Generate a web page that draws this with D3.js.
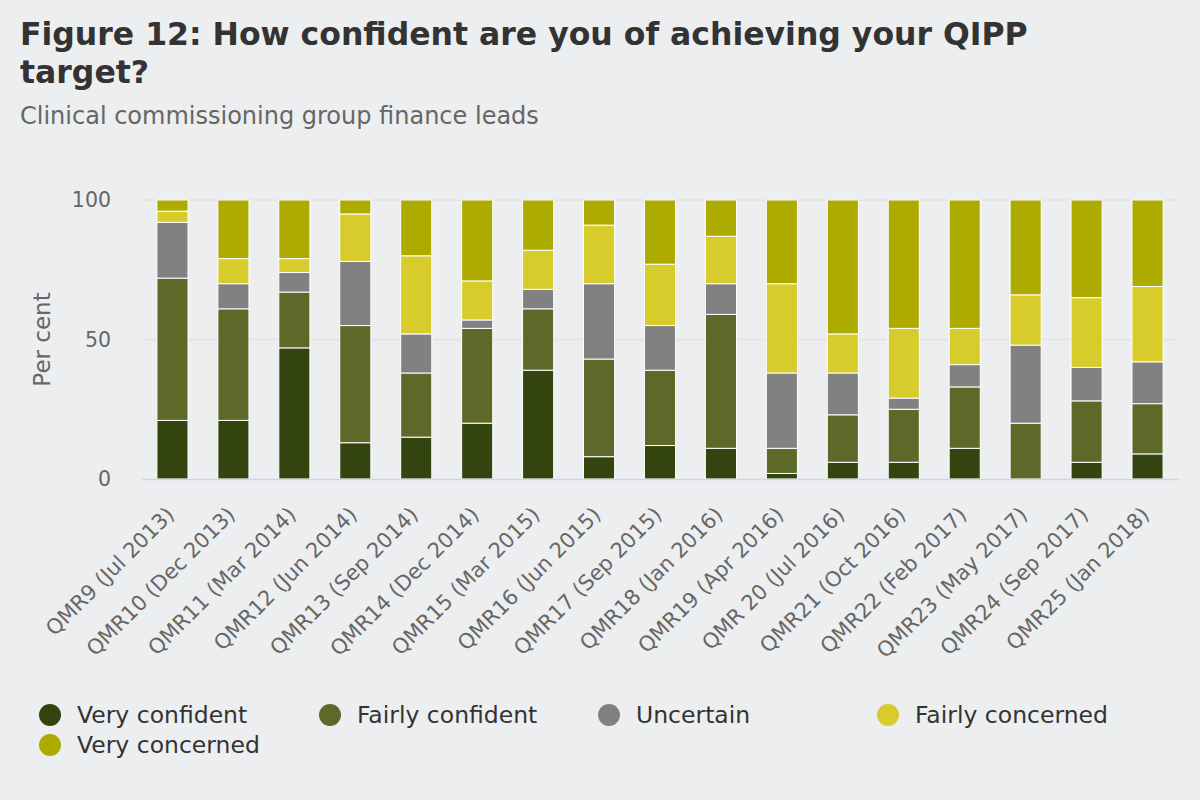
<!DOCTYPE html>
<html>
<head>
<meta charset="utf-8">
<script src="https://cdn.jsdelivr.net/npm/d3@7"></script>
<style>
  body { margin: 0; background: #edeef0; }
  svg { display: block; font-family: "DejaVu Sans", Verdana, sans-serif; }
</style>
</head>
<body>
<div id="chart"></div>
<script>
// survey rounds
var categories = [
  "QMR9 (Jul 2013)", "QMR10 (Dec 2013)", "QMR11 (Mar 2014)", "QMR12 (Jun 2014)",
  "QMR13 (Sep 2014)", "QMR14 (Dec 2014)", "QMR15 (Mar 2015)", "QMR16 (Jun 2015)",
  "QMR17 (Sep 2015)", "QMR18 (Jan 2016)", "QMR19 (Apr 2016)", "QMR 20 (Jul 2016)",
  "QMR21 (Oct 2016)", "QMR22 (Feb 2017)", "QMR23 (May 2017)", "QMR24 (Sep 2017)",
  "QMR25 (Jan 2018)"
];
var seriesNames = ["Very confident", "Fairly confident", "Uncertain", "Fairly concerned", "Very concerned"];
var seriesColors = ["#34440f", "#5e6829", "#818181", "#d8cc2c", "#adaa00"];

// per cent of finance leads
var veryConfident   = [21, 21, 47, 13, 15, 20, 39,  8, 12, 11,  2,  6,  6, 11,  0,  6,  9];
var fairlyConfident = [51, 40, 20, 42, 23, 34, 22, 35, 27, 48,  9, 17, 19, 22, 20, 22, 18];
var uncertain       = [20,  9,  7, 23, 14,  3,  7, 27, 16, 11, 27, 15,  4,  8, 28, 12, 15];
var fairlyConcerned = [ 4,  9,  5, 17, 28, 14, 14, 21, 22, 17, 32, 14, 25, 13, 18, 25, 27];
var veryConcerned   = [ 4, 21, 21,  5, 20, 29, 18,  9, 23, 13, 30, 48, 46, 46, 34, 35, 31];
var yTicks = [0, 50, 100];

var WIDTH = 1200, HEIGHT = 800;
var MARGIN = { LEFT: 142, RIGHT: 22, TOP: 200, BOTTOM: 321 };
var FONT = "DejaVu Sans, Verdana, sans-serif";

var table = categories.map(function (c, i) {
  return {
    cat: c,
    "Very confident": veryConfident[i],
    "Fairly confident": fairlyConfident[i],
    "Uncertain": uncertain[i],
    "Fairly concerned": fairlyConcerned[i],
    "Very concerned": veryConcerned[i]
  };
});

var stacked = d3.stack().keys(seriesNames)(table);

var svg = d3.select("#chart").append("svg")
  .attr("width", WIDTH)
  .attr("height", HEIGHT);

svg.append("rect").attr("width", WIDTH).attr("height", HEIGHT).attr("fill", "#edeef0");

// title + subtitle
svg.append("text")
  .attr("x", 20).attr("y", 45)
  .attr("font-size", 31.5).attr("font-weight", "bold").attr("fill", "#333333")
  .text("Figure 12: How confident are you of achieving your QIPP");
svg.append("text")
  .attr("x", 20).attr("y", 83)
  .attr("font-size", 31.5).attr("font-weight", "bold").attr("fill", "#333333")
  .text("target?");
svg.append("text")
  .attr("x", 20).attr("y", 124)
  .attr("font-size", 24).attr("fill", "#666666")
  .text("Clinical commissioning group finance leads");

var x = d3.scaleBand().domain(categories)
  .range([MARGIN.LEFT, WIDTH - MARGIN.RIGHT])
  .paddingInner(0.49).paddingOuter(0.245);
var y = d3.scaleLinear().domain([0, 100])
  .range([HEIGHT - MARGIN.BOTTOM, MARGIN.TOP]);

// grid
svg.append("g")
  .selectAll("line")
  .data(yTicks.filter(function (t) { return t > 0; }))
  .join("line")
  .attr("x1", MARGIN.LEFT).attr("x2", WIDTH - MARGIN.RIGHT)
  .attr("y1", function (d) { return y(d); }).attr("y2", function (d) { return y(d); })
  .attr("stroke", "#e0e2e5").attr("stroke-width", 1.5);

// y axis
var yAxis = svg.append("g")
  .attr("transform", "translate(" + (MARGIN.LEFT - 31) + ",0)")
  .call(d3.axisLeft(y).tickValues(yTicks).tickSize(0).tickPadding(0));
yAxis.select(".domain").remove();
yAxis.selectAll("text")
  .attr("font-size", 20.5).attr("fill", "#666666")
  .attr("font-family", FONT);

svg.append("text")
  .attr("transform", "translate(50," + y(50) + ") rotate(-90)")
  .attr("text-anchor", "middle")
  .attr("font-size", 23).attr("fill", "#666666")
  .text("Per cent");

// bars
svg.append("g")
  .selectAll("g")
  .data(stacked)
  .join("g")
  .attr("fill", function (d, i) { return seriesColors[i]; })
  .selectAll("rect")
  .data(function (d) { return d.map(function (v) { return { v: v, cat: v.data.cat }; }); })
  .join("rect")
  .filter(function (d) { return d.v[1] - d.v[0] > 0; })
  .attr("x", function (d) { return x(d.cat); })
  .attr("width", x.bandwidth())
  .attr("y", function (d) { return y(d.v[1]); })
  .attr("height", function (d) { return y(d.v[0]) - y(d.v[1]); })
  .attr("stroke", "#ffffff").attr("stroke-width", 1);

// x axis
var xAxis = svg.append("g")
  .attr("transform", "translate(0," + y(0) + ")")
  .call(d3.axisBottom(x).tickSize(0).tickPadding(0));
xAxis.select(".domain").attr("stroke", "#ccd6eb").attr("stroke-width", 1.5);
xAxis.selectAll("text")
  .attr("font-size", 21).attr("fill", "#666666")
  .attr("font-family", FONT)
  .attr("text-anchor", "end")
  .attr("y", 0)
  .attr("dy", 0)
  .attr("transform", "translate(3,37) rotate(-45)");

// legend
var legendPos = [[50, 715], [330, 715], [609, 715], [888, 715], [50, 745]];
var legend = svg.append("g")
  .selectAll("g")
  .data(seriesNames)
  .join("g")
  .attr("transform", function (d, i) { return "translate(" + legendPos[i][0] + "," + legendPos[i][1] + ")"; });
legend.append("circle")
  .attr("r", 11)
  .attr("fill", function (d, i) { return seriesColors[i]; });
legend.append("text")
  .attr("x", 27).attr("dy", "0.36em")
  .attr("font-size", 23.5).attr("fill", "#333333")
  .text(function (d) { return d; });
</script>
</body>
</html>
